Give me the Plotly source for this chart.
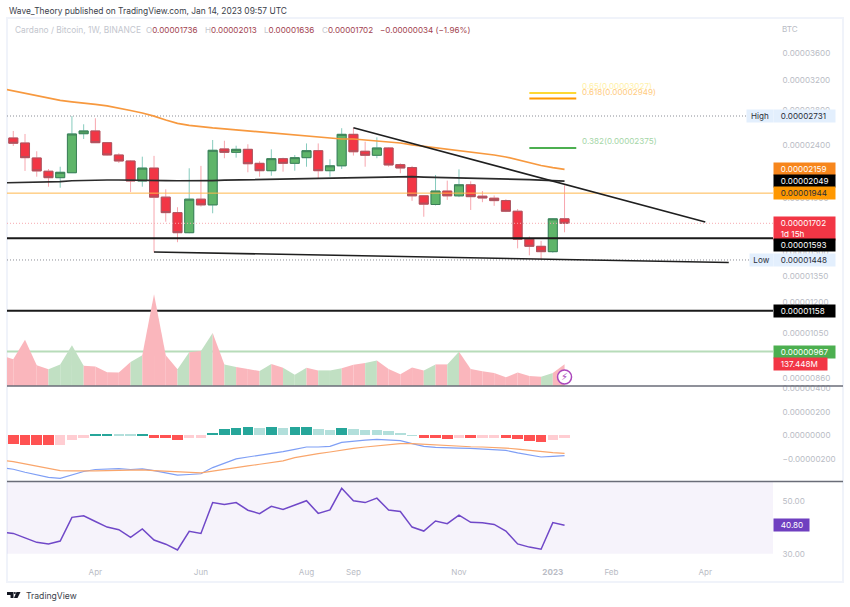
import math

import pandas as pd
import plotly.graph_objects as go

# weekly bars, all prices below are in satoshi (1e-8 BTC)
weeks = pd.date_range("2022-02-07", periods=49, freq="7D")  # first week is only for the lines, off to the left
candle_weeks = weeks[1:]

opens = [2479, 2425, 2270, 2141, 2081, 2127, 2526, 2557, 2428, 2300, 2240, 2051, 2171, 1910, 1784, 1633,
         1893, 1846, 2362, 2327, 2358, 2217, 2146, 2263, 2217, 2273, 2344, 2146, 2193, 2519, 2338, 2297,
         2372, 2204, 2176, 1921, 1849, 1962, 1921, 2017, 1918, 1901, 1881, 1795, 1587, 1538, 1502, 1736]
highs = [2557, 2523, 2338, 2162, 2184, 2731, 2633, 2704, 2436, 2318, 2248, 2283, 2291, 1977, 1827, 2169,
         2192, 2457, 2449, 2396, 2411, 2237, 2358, 2273, 2300, 2420, 2420, 2257, 2588, 2594, 2439, 2486,
         2379, 2217, 2192, 1924, 2106, 2054, 2159, 2048, 1962, 1924, 1893, 1813, 1606, 1575, 1740, 2013]
lows = [2393, 2144, 2090, 2000, 1991, 2127, 2468, 2428, 2295, 2220, 1954, 2000, 1497, 1714, 1566, 1629,
        1832, 1779, 2267, 2273, 2131, 2090, 2099, 2137, 2146, 2184, 2076, 2090, 2162, 2294, 2184, 2267,
        2184, 2122, 1879, 1752, 1841, 1887, 1910, 1805, 1868, 1838, 1788, 1524, 1478, 1448, 1495, 1636]
closes = [2422, 2273, 2144, 2081, 2131, 2523, 2557, 2428, 2300, 2240, 2051, 2171, 1910, 1784, 1633, 1893,
          1846, 2348, 2327, 2358, 2213, 2146, 2263, 2217, 2273, 2344, 2146, 2193, 2519, 2333, 2297, 2372,
          2201, 2172, 1921, 1852, 1962, 1921, 2017, 1914, 1903, 1881, 1795, 1587, 1538, 1502, 1736, 1702]

ma_orange = [3083, 3050, 3016, 2983, 2950, 2925, 2906, 2893, 2874, 2855, 2829, 2798, 2767, 2730, 2684, 2643,
             2620, 2603, 2591, 2580, 2568, 2557, 2546, 2535, 2523, 2507, 2501, 2490, 2474, 2468, 2468, 2457,
             2446, 2436, 2425, 2404, 2389, 2378, 2362, 2346, 2331, 2315, 2300, 2280, 2250, 2220, 2196, 2176, 2159]
ma_black = [2034, 2036, 2037, 2039, 2042, 2045, 2053, 2057, 2060, 2060, 2060, 2060, 2058, 2056, 2055, 2053,
            2052, 2052, 2055, 2058, 2060, 2062, 2064, 2065, 2067, 2069, 2071, 2074, 2078, 2082, 2085, 2088,
            2090, 2092, 2092, 2090, 2087, 2085, 2082, 2079, 2077, 2075, 2074, 2071, 2067, 2063, 2058, 2054, 2049]

# volume in millions, one more point than candles
volume = [195, 169, 294, 131, 106, 137, 258, 129, 123, 87, 85, 152, 195, 582, 195, 106, 214, 222, 336, 137,
          121, 108, 95, 140, 116, 72, 116, 99, 99, 112, 135, 146, 161, 108, 74, 118, 99, 137, 137, 218, 108,
          93, 82, 55, 85, 63, 59, 82, 137.448]

macd_hist = [-72, -78, -83, -84, -78, -42, -17, 8, 8, 7, 6, 7, -17, -25, -39, -25, -19, 25, 56, 67, 75, 67, 70,
             67, 70, 70, 58, 50, 64, 56, 50, 49, 39, 25, 3, -22, -23, -31, -22, -23, -22, -21, -23, -33, -47,
             -56, -39, -22]
macd_line = [-270, -284, -309, -328, -353, -361, -331, -303, -286, -281, -278, -286, -281, -295, -314, -334,
             -328, -322, -270, -231, -197, -181, -167, -153, -136, -117, -97, -97, -92, -58, -47, -39, -33,
             -36, -44, -69, -92, -100, -106, -106, -108, -114, -120, -125, -147, -164, -181, -175, -170]
macd_signal = [-209, -220, -239, -259, -278, -295, -297, -300, -297, -295, -292, -292, -289, -295, -300, -306,
               -309, -314, -300, -284, -267, -256, -242, -228, -214, -186, -167, -153, -139, -122, -108, -97,
               -86, -78, -69, -69, -75, -81, -86, -89, -95, -97, -100, -106, -114, -125, -136, -145, -150]

rsi = [38.1, 37.7, 36.0, 34.3, 33.7, 34.8, 43.8, 44.4, 42.2, 40.1, 39.1, 36.2, 39.4, 35.2, 33.6, 31.4, 38.5,
       37.7, 49.4, 48.7, 49.4, 46.5, 45.2, 48.0, 46.8, 48.5, 50.1, 45.3, 46.6, 54.8, 50.1, 49.4, 51.1, 46.6,
       46.0, 40.1, 38.6, 42.4, 41.4, 44.6, 41.9, 41.7, 41.1, 38.6, 33.7, 32.5, 31.7, 41.8, 40.8]

price_ticks = [3600, 3200, 2800, 2400, 1900, 1500, 1350, 1200, 1050, 860]
macd_ticks = [400, 200, 0, -200]
macd_tick_labels = ["0.00000400", "0.00000200", "0.00000000", "\u22120.00000200"]
rsi_ticks = [50, 30]
x_ticks = ["2022-04-04", "2022-06-06", "2022-08-08", "2022-09-05", "2022-11-07", "2023-01-02", "2023-02-06", "2023-04-03"]
x_tick_labels = ["Apr", "Jun", "Aug", "Sep", "Nov", "<b>2023</b>", "Feb", "Apr"]

high_level, low_level, last_price = 2731, 1448, 1702
support_levels = [1593, 1158]
orange_level = 1944
green_level = 967

falling_trend = (["2022-09-05", "2023-04-03"], [2594, 1712])
lower_trend = (["2022-05-09", "2023-04-17"], [1500, 1432])
fib_dates = ["2022-12-19", "2023-01-16"]
fib_levels = [("0.65(0.00003027)", 3022, "#fdd835", "#fff1a8"),
              ("0.618(0.00002949)", 2949, "#ff9800", "#ffcc80"),
              ("0.382(0.00002375)", 2372, "#4caf50", "#a5d6a7")]

X_START, X_END = "2022-02-10 06:00", "2023-05-13 10:00"
PRICE_RANGE = (4206, 831)
VOLUME_TOP = 2334
MACD_RANGE = (-387, 416)
RSI_RANGE = (29.5, 57.4)

# pixel layout of the picture
LEFT, RIGHT, TOP, BOTTOM = 7, 773, 18, 555
MAIN_BOTTOM, MACD_BOTTOM = 386, 481.5
TEXT_FONT = "Inter"
TEXT_SIZE = 8.1
AXIS_GREY = "#b9bcc5"


def px_x(px):
    return (px - LEFT) / (RIGHT - LEFT)


def px_y(py):
    return (BOTTOM - py) / (BOTTOM - TOP)


def btc(values):
    return [v / 1e8 for v in values]


fig = go.Figure()

# volume area, each stretch takes the colour of the candle it leads to
for i in range(1, len(weeks)):
    up = closes[i - 1] >= opens[i - 1]
    fig.add_trace(go.Scatter(x=[weeks[i - 1], weeks[i]], y=[volume[i - 1], volume[i]], yaxis="y2", mode="lines",
                             line=dict(width=0), fill="tozeroy",
                             fillcolor="#c1e0c3" if up else "#fab6bc", hoverinfo="skip"))


def level(value, color, width, dash="solid", x0=X_START, x1=X_END):
    fig.add_trace(go.Scatter(x=[x0, x1], y=btc([value, value]), mode="lines",
                             line=dict(color=color, width=width, dash=dash), hoverinfo="skip"))


level(high_level, "#8a8d96", 1, "1px,2px", x1="2023-04-28")
level(low_level, "#8a8d96", 1, "1px,2px", x1="2023-04-30")
level(last_price, "#f7a9b0", 1, "1px,2px")
level(orange_level, "#ffb74d", 1)
level(green_level, "#b7dcb9", 2)
for s in support_levels:
    level(s, "#1a1a1a", 2)

fig.add_trace(go.Scatter(x=weeks, y=btc(ma_black), mode="lines", line=dict(color="#2b2b2b", width=1.7)))
fig.add_trace(go.Scatter(x=weeks, y=btc(ma_orange), mode="lines", line=dict(color="#f7993f", width=1.7)))

# wicks are paler than the bodies, so they get their own trace under the bodies
fig.add_trace(go.Candlestick(x=candle_weeks, open=btc(opens), high=btc(highs), low=btc(lows), close=btc(closes),
                             increasing=dict(line=dict(color="#86cbbd", width=1), fillcolor="#86cbbd"),
                             decreasing=dict(line=dict(color="#f7a6ae", width=1), fillcolor="#f7a6ae")))
body_top = [max(o, c) for o, c in zip(opens, closes)]
body_bottom = [min(o, c) for o, c in zip(opens, closes)]
fig.add_trace(go.Candlestick(x=candle_weeks, open=btc(opens), high=btc(body_top), low=btc(body_bottom), close=btc(closes),
                             increasing=dict(line=dict(color="#3d7f57", width=1), fillcolor="#5fb56a"),
                             decreasing=dict(line=dict(color="#a85560", width=1), fillcolor="#f23645")))

for trend in (falling_trend, lower_trend):
    fig.add_trace(go.Scatter(x=trend[0], y=btc(trend[1]), mode="lines", line=dict(color="#1f1f1f", width=1.6)))

for label, value, line_color, text_color in fib_levels:
    fig.add_trace(go.Scatter(x=fib_dates, y=btc([value, value]), mode="lines", line=dict(color=line_color, width=2)))

# purple flash marker sitting on the volume
fig.add_trace(go.Scatter(x=[candle_weeks[-1]], y=[57], yaxis="y2", mode="markers+text", text=["\u26a1"],
                         textposition="middle center", textfont=dict(color="#ab47bc", size=10, family="DejaVu Sans"),
                         marker=dict(size=14, color="white", line=dict(color="#ab47bc", width=1.5))))

# macd pane
hist_colors = []
prev = 0
for h in macd_hist:
    if h >= 0:
        hist_colors.append("#26a69a" if h >= prev else "#b2dfdb")
    else:
        hist_colors.append("#ff5252" if h < prev else "#ffcdd2")
    prev = h
fig.add_trace(go.Bar(x=candle_weeks, y=btc(macd_hist), yaxis="y3", marker=dict(color=hist_colors, line=dict(width=0)),
                     width=86400000 * 6.3))
fig.add_trace(go.Scatter(x=weeks, y=btc(macd_line), yaxis="y3", mode="lines", line=dict(color="#7f9ff5", width=1.2)))
fig.add_trace(go.Scatter(x=weeks, y=btc(macd_signal), yaxis="y3", mode="lines", line=dict(color="#f9a66c", width=1.2)))

# rsi pane
fig.add_trace(go.Scatter(x=weeks, y=rsi, yaxis="y4", mode="lines", line=dict(color="#7048c8", width=1.5)))

annotations = []


def add_text(text, px, py, color, size=TEXT_SIZE, anchor="left"):
    annotations.append(dict(text=text, xref="paper", yref="paper", x=px_x(px), y=px_y(py), showarrow=False,
                            xanchor=anchor, yanchor="middle", font=dict(family=TEXT_FONT, size=size, color=color)))


def badge(text, value, bg, color, width=61, height=11.5, shift=0, ref="y", log=True, px=RIGHT, align="left"):
    annotations.append(dict(text=text, xref="paper", yref=ref, x=px_x(px), y=math.log10(value / 1e8) if log else value,
                            yshift=shift, showarrow=False, xanchor="left", yanchor="middle", width=width, height=height,
                            align=align, bgcolor=bg, borderpad=0,
                            font=dict(family=TEXT_FONT, size=TEXT_SIZE, color=color)))


pad = "\u00a0\u00a0\u00a0"
badge(pad + "0.00002731", high_level, "#e3effd", "#2a2e39")
badge("High", high_level, "#e3effd", "#2a2e39", width=26, px=746, align="center")
badge(pad + "0.00002159", 2159, "#f7861c", "white")
badge(pad + "0.00002049", 2049, "#000000", "white")
badge(pad + "0.00001944", 1944, "#ff9800", "#2a2e39")
badge(pad + "0.00001702<br>" + pad + "1d 15h", 1702, "#f23645", "white", height=23, shift=-5)
badge(pad + "0.00001593", 1593, "#000000", "white", shift=-6.5)
badge(pad + "0.00001448", 1448, "#e3effd", "#2a2e39")
badge("Low", 1448, "#e3effd", "#2a2e39", width=23, px=749, align="center")
badge(pad + "0.00001158", 1158, "#000000", "white")
badge(pad + "0.00000967", 967, "#4caf50", "white")
badge(pad + "137.448M", 137.448, "#f23645", "white", width=53, ref="y2", log=False)
badge(pad + "40.80", 40.8, "#6f3fc0", "white", width=35, ref="y4", log=False)

for label, value, line_color, text_color in fib_levels:
    annotations.append(dict(text=label, xref="x", yref="y", x=fib_dates[1], y=math.log10(value / 1e8), xshift=4, yshift=7,
                            showarrow=False, xanchor="left", yanchor="middle",
                            font=dict(family=TEXT_FONT, size=TEXT_SIZE, color=text_color)))

add_text("Wave_Theory published on TradingView.com, Jan 14, 2023 09:57 UTC", 7, 11, "#3a3e4a", size=8.4)
add_text("Cardano / Bitcoin, 1W, BINANCE", 13, 30, "#c3c6ce", size=8.4)
ohlc = [("O", "0.00001736", 144), ("H", "0.00002013", 203), ("L", "0.00001636", 262), ("C", "0.00001702", 320)]
for letter, val, px in ohlc:
    add_text(f"<span style='color:#c3c6ce'>{letter}</span>{val}", px, 30, "#a2434f")
add_text("\u22120.00000034 (\u22121.96%)", 378, 30, "#a2434f")
add_text("BTC", 780, 29, AXIS_GREY)
add_text("TradingView", 24, 596, "#3a3e4a", size=8.6)

shapes = [
    dict(type="rect", xref="paper", yref="paper", x0=0, x1=px_x(843), y0=px_y(582), y1=1, layer="below",
         line=dict(color="#f0f3fa", width=2)),
    dict(type="line", xref="paper", yref="paper", x0=0, x1=px_x(843), y0=px_y(MAIN_BOTTOM), y1=px_y(MAIN_BOTTOM),
         line=dict(color="#6a6d78", width=1.3)),
    dict(type="line", xref="paper", yref="paper", x0=0, x1=px_x(843), y0=px_y(MACD_BOTTOM), y1=px_y(MACD_BOTTOM),
         line=dict(color="#6a6d78", width=1.3)),
    dict(type="rect", xref="paper", yref="y4", x0=0, x1=1, y0=30, y1=RSI_RANGE[1], layer="below",
         fillcolor="rgba(126,87,194,0.07)", line=dict(width=0)),
]

# TradingView logo
logo = "M %.4f %.4f L %.4f %.4f L %.4f %.4f L %.4f %.4f L %.4f %.4f L %.4f %.4f Z" % (
    px_x(7), px_y(592), px_x(13.5), px_y(592), px_x(13.5), px_y(598), px_x(10.5), px_y(598), px_x(10.5), px_y(595), px_x(7), px_y(595))
logo_v = "M %.4f %.4f L %.4f %.4f L %.4f %.4f L %.4f %.4f Z" % (
    px_x(16.5), px_y(592), px_x(20.5), px_y(592), px_x(17.5), px_y(598), px_x(14), px_y(598))
shapes.append(dict(type="path", xref="paper", yref="paper", path=logo, fillcolor="#131722", line=dict(width=0)))
shapes.append(dict(type="path", xref="paper", yref="paper", path=logo_v, fillcolor="#131722", line=dict(width=0)))
shapes.append(dict(type="circle", xref="paper", yref="paper", x0=px_x(13.9), x1=px_x(15.9), y0=px_y(594), y1=px_y(592),
                   fillcolor="#131722", line=dict(width=0)))

axis_font = dict(family=TEXT_FONT, size=TEXT_SIZE, color=AXIS_GREY)
y_common = dict(side="right", anchor="x", showgrid=False, zeroline=False, showline=False, ticks="outside", ticklen=7,
                tickcolor="rgba(0,0,0,0)", tickfont=axis_font)

fig.update_layout(
    width=850, height=607, showlegend=False, template=None, plot_bgcolor="white", paper_bgcolor="white",
    margin=dict(l=LEFT, r=850 - RIGHT, t=TOP, b=607 - BOTTOM, autoexpand=False),
    boxgap=0.23, boxgroupgap=0, bargap=0, barmode="overlay", hovermode=False,
    annotations=annotations, shapes=shapes,
    xaxis=dict(type="date", range=[X_START, X_END], anchor="y4", tickmode="array", tickvals=x_ticks, ticktext=x_tick_labels,
               rangeslider=dict(visible=False), showgrid=False, zeroline=False, showline=False, ticks="outside", ticklen=9,
               tickcolor="rgba(0,0,0,0)", tickfont=axis_font),
    yaxis=dict(type="log", domain=[px_y(MAIN_BOTTOM), 1],
               range=[math.log10(PRICE_RANGE[1] / 1e8), math.log10(PRICE_RANGE[0] / 1e8)],
               tickmode="array", tickvals=btc(price_ticks), ticktext=[f"{t / 1e8:.8f}" for t in price_ticks], **y_common),
    yaxis2=dict(overlaying="y", side="right", visible=False, range=[0, VOLUME_TOP]),
    yaxis3=dict(domain=[px_y(MACD_BOTTOM), px_y(MAIN_BOTTOM)], range=btc(MACD_RANGE), tickmode="array",
                tickvals=btc(macd_ticks), ticktext=macd_tick_labels, **y_common),
    yaxis4=dict(domain=[0, px_y(MACD_BOTTOM)], range=list(RSI_RANGE), tickmode="array", tickvals=rsi_ticks,
                ticktext=[f"{t:.2f}" for t in rsi_ticks], **y_common),
)

fig.write_html("out.html", config={"displayModeBar": False}, post_script="document.body.style.margin='0';")
